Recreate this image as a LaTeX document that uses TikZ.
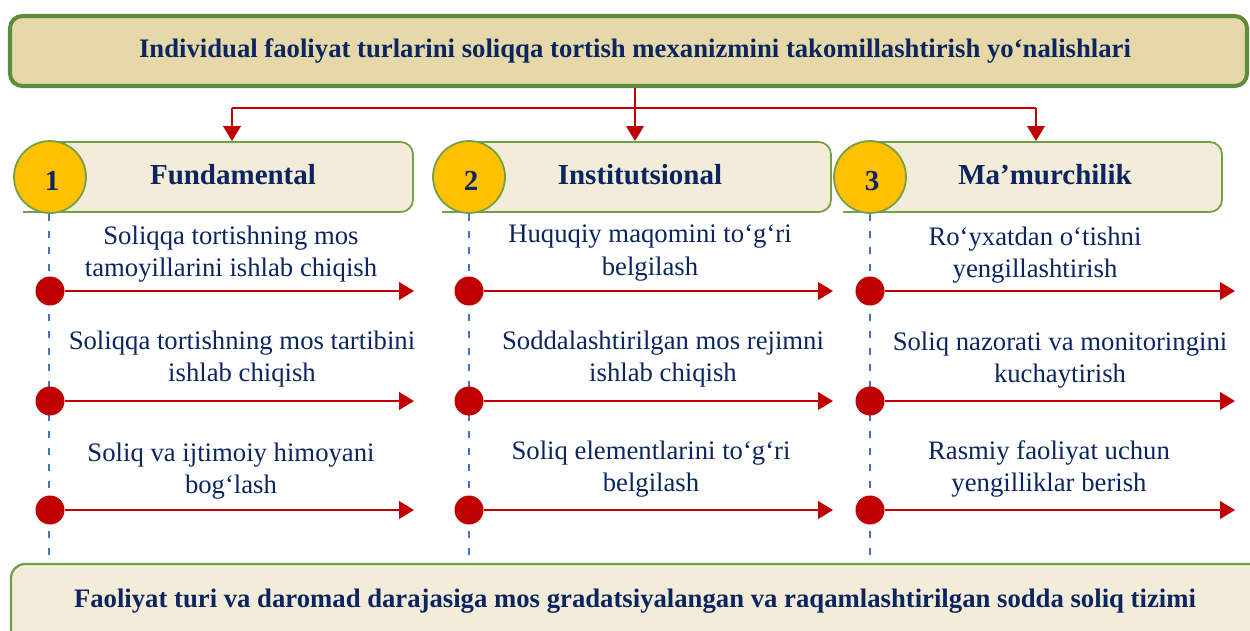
\documentclass[tikz,border=0pt]{standalone}
\usepackage{fontspec}
\setmainfont{Liberation Serif}
\usetikzlibrary{arrows.meta}
\definecolor{navy}{HTML}{0B2560}
\definecolor{tan}{HTML}{E6D8A9}
\definecolor{cream}{HTML}{F3ECD9}
\definecolor{grn}{HTML}{5E8C3A}
\definecolor{grnl}{HTML}{71A046}
\definecolor{gold}{HTML}{FFC000}
\definecolor{rd}{HTML}{C00000}
\definecolor{bl}{HTML}{4472C4}
\tikzset{
  titlefont/.style={font=\fontsize{15.2}{17}\selectfont\bfseries, text=navy},
  headfont/.style={font=\fontsize{16.5}{19}\selectfont\bfseries, text=navy},
  bodytext/.style={font=\fontsize{15.2}{18.3}\selectfont, text=navy, align=center},
  numcirc/.style={circle, fill=gold, draw=grnl, line width=1pt, minimum size=1.44cm, inner sep=0pt},
  numtext/.style={font=\fontsize{16.5}{19}\selectfont\bfseries, text=navy},
  dot/.style={circle, fill=rd, minimum size=0.58cm, inner sep=0pt},
  rarrow/.style={draw=rd, line width=1.1pt, -{Triangle[length=8.5pt,width=10pt]}},
  vdash/.style={draw=bl, line width=1.1pt, dash pattern=on 4pt off 5.5pt},
  hbox/.style={draw=grnl, line width=1pt},
}
\begin{document}
\begin{tikzpicture}[x=0.02cm,y=-0.02cm]
\useasboundingbox (0,0) rectangle (1250,630);

% top box
\draw[grn, line width=2.3pt, fill=tan, rounded corners=7pt] (10,16) rectangle (1247,86);
\node[titlefont] (title) at (635,51) {Individual faoliyat turlarini soliqqa tortish mexanizmini takomillashtirish yo‘nalishlari};

% connectors from title
\coordinate (tb) at (635,87.5);
\coordinate (j1) at (232,108);
\coordinate (j3) at (1036,108);
\coordinate (t1) at (232,141);
\coordinate (t2) at (635,141);
\coordinate (t3) at (1036,141);
\draw[rarrow] (tb) -- (t2);
\draw[draw=rd, line width=1.1pt] (j1) -- (j3);
\draw[rarrow] (j1) -- (t1);
\draw[rarrow] (j3) -- (t3);

% header boxes
\foreach \cx/\rx in {50/413, 469/831, 870/1222}{
  \path[fill=cream] (\cx,142) [rounded corners=7pt] -- (\rx,142) -- (\rx,212) [sharp corners] -- (\cx,212) -- cycle;
  \draw[hbox] (\cx,142) [rounded corners=7pt] -- (\rx,142) -- (\rx,212) [sharp corners] -- (\cx-27,212);
}
\node[headfont] (h1) at (233,175) {Fundamental};
\node[headfont] (h2) at (640,175) {Institutsional};
\node[headfont] (h3) at (1045,175) {Ma’murchilik};

% dashed vertical lines
\coordinate (v1t) at (49,214); \coordinate (v1b) at (49,560);
\coordinate (v2t) at (469,214); \coordinate (v2b) at (469,560);
\coordinate (v3t) at (870,214); \coordinate (v3b) at (870,560);
\draw[vdash] (v1t) -- (v1b);
\draw[vdash] (v2t) -- (v2b);
\draw[vdash] (v3t) -- (v3b);

% number circles
\node[numcirc] (c1) at (50,177) {};
\node[numcirc] (c2) at (469,177) {};
\node[numcirc] (c3) at (870,177) {};
\node[numtext] (n1) at (52,181) {1};
\node[numtext] (n2) at (471,181) {2};
\node[numtext] (n3) at (872,181) {3};

% rows
\foreach \r/\y in {1/291, 2/401, 3/510}{
  \node[dot] (d1\r) at (50,\y) {};
  \node[dot] (d2\r) at (469,\y) {};
  \node[dot] (d3\r) at (870,\y) {};
  \coordinate (e1\r) at (414,\y);
  \coordinate (e2\r) at (833,\y);
  \coordinate (e3\r) at (1235,\y);
  \draw[rarrow] (d1\r) -- (e1\r);
  \draw[rarrow] (d2\r) -- (e2\r);
  \draw[rarrow] (d3\r) -- (e3\r);
}

% texts
\node[bodytext] (s11) at (231,254) {Soliqqa tortishning mos\\tamoyillarini ishlab chiqish};
\node[bodytext] (s12) at (242,359) {Soliqqa tortishning mos tartibini\\ishlab chiqish};
\node[bodytext] (s13) at (231,471) {Soliq va ijtimoiy himoyani\\bog‘lash};
\node[bodytext] (s21) at (650,253) {Huquqiy maqomini to‘g‘ri\\belgilash};
\node[bodytext] (s22) at (663,359) {Soddalashtirilgan mos rejimni\\ishlab chiqish};
\node[bodytext] (s23) at (651,469) {Soliq elementlarini to‘g‘ri\\belgilash};
\node[bodytext] (s31) at (1035,255) {Ro‘yxatdan o‘tishni\\yengillashtirish};
\node[bodytext] (s32) at (1060,360) {Soliq nazorati va monitoringini\\kuchaytirish};
\node[bodytext] (s33) at (1049,469) {Rasmiy faoliyat uchun\\yengilliklar berish};

% bottom box
\draw[grnl, line width=1.3pt, fill=cream, rounded corners=8pt] (11,564) rectangle (1268,660);
\node[titlefont] (bottom) at (635,601) {Faoliyat turi va daromad darajasiga mos gradatsiyalangan va raqamlashtirilgan sodda soliq tizimi};
\end{tikzpicture}
\end{document}
